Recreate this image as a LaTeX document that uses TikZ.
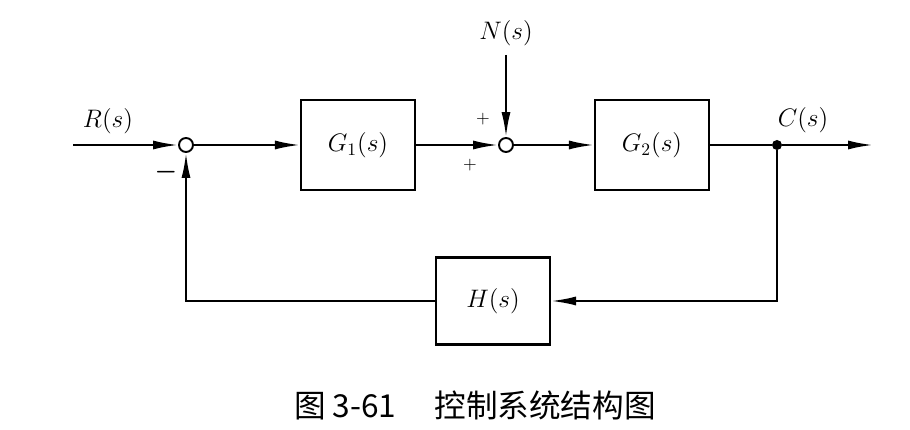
\documentclass[tikz,border=0pt]{standalone}
\usepackage{amsmath}
\usepackage{fontspec}
\newfontfamily\cjk{Noto Sans CJK SC}
\usetikzlibrary{arrows.meta,positioning,calc}

\tikzset{
    blk/.style={draw,rectangle,line width=1.2pt,minimum width=2.28cm,minimum height=1.8cm,font=\Large},
    sumpt/.style={draw,circle,line width=1.1pt,minimum size=0.28cm,inner sep=0pt},
    sig/.style={line width=1.2pt,-{Latex[length=5mm,width=1.8mm]}},
    wire/.style={line width=1.2pt},
}

\begin{document}
\begin{tikzpicture}
    \useasboundingbox (0,0) rectangle (18.2,8.6);
    % forward path
    \coordinate (in) at (1.46,5.70);
    \node[sumpt] (s1) at (3.72,5.70) {};
    \node[blk] (g1) at (7.16,5.70) {$G_1(s)$};
    \node[sumpt] (s2) at (10.12,5.70) {};
    \node[blk] (g2) at (13.04,5.70) {$G_2(s)$};
    \node[circle,fill,inner sep=0pt,minimum size=0.2cm] (br) at (15.54,5.70) {};
    \coordinate (out) at (17.46,5.70);
    \coordinate (nin) at (10.12,7.50);
    % feedback
    \node[blk,minimum height=1.74cm] (h) at (9.86,2.58) {$H(s)$};

    \draw[sig] (in) -- (s1);
    \draw[sig] (s1) -- (g1);
    \draw[sig] (g1) -- (s2);
    \draw[sig] (s2) -- (g2);
    \draw[wire] (g2) -- (br);
    \draw[sig] (br) -- (out);
    \draw[sig] (nin) -- (s2);
    \draw[sig] (br) |- (h);
    \draw[sig] (h) -| (s1);

    % labels
    \node[font=\Large] (rl) at (2.16,6.18) {$R(s)$};
    \node[font=\Large] (cl) at (16.06,6.20) {$C(s)$};
    \node[font=\Large] (nl) at (10.12,7.94) {$N(s)$};
    \node[font=\Large] (m1) at (3.32,5.16) {$\boldsymbol{-}$};
    \node (p1) at (9.66,6.22) {$+$};
    \node (p2) at (9.40,5.30) {$+$};

    \node[font=\cjk\fontsize{18}{20}\selectfont] (cap) at (9.5,0.5) {图 3-61\hspace{1.2em}控制系统结构图};
\end{tikzpicture}
\end{document}
